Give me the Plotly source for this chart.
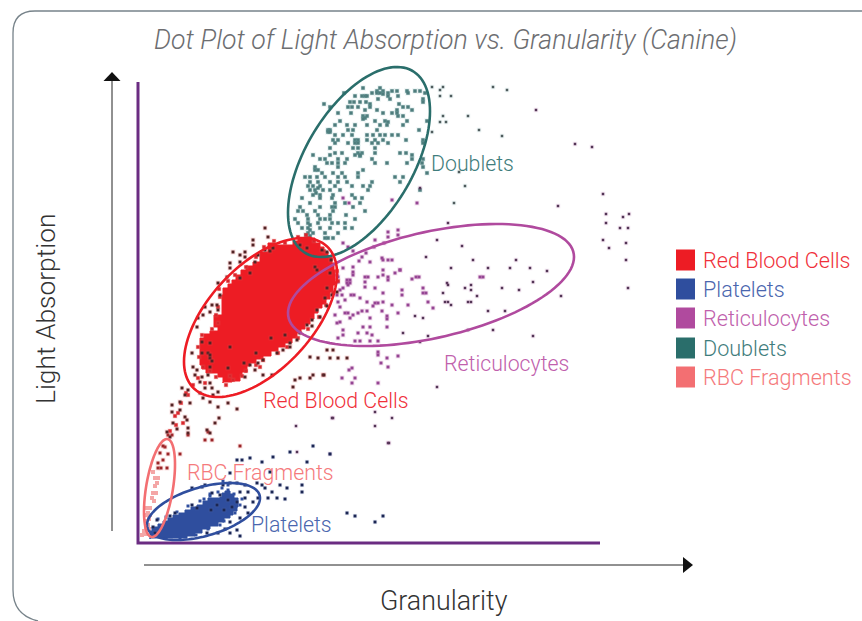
import math
import plotly.graph_objects as go

W, H = 862, 621
X0, Y0 = 138, 543  # pixel position of the origin of the dot plot axes
FONT = "Roboto"

RED, BLUE, PURPLE, TEAL, PINK = "#ed1c24", "#2f4e9e", "#b04a9e", "#2a6e6b", "#f36f72"

DOUBLET_PTS = [
(225,455),(242,455),(239,452),(245,452),(254,452),(259,452),(269,452),(277,452),(282,452),
(206,450),(234,450),(239,450),(242,450),(245,449),(250,450),(270,450),(287,450),(217,447),(224,447),(227,447),(229,447),(250,447),
(260,447),(240,444),(252,444),(285,444),(212,441),(216,441),(222,441),(228,441),(285,441),(186,439),(232,439),
(261,439),(192,436),(210,436),(214,436),(220,436),(232,436),(265,436),(270,436),(227,433),(239,433),(259,433),(274,433),
(200,430),(213,430),(245,430),(254,430),(259,430),(225,427),(229,427),(260,427),(265,427),(227,425),(225,424),
(202,422),(237,422),(247,422),(250,421),(269,422),(289,422),(197,418),(209,418),(217,418),(229,418),(242,418),
(249,418),(265,418),(190,413),(192,413),(190,411),(192,411),(210,413),(215,413),(239,413),(281,413),(197,408),(205,408),
(214,408),(229,408),(235,408),(242,408),(247,408),(254,408),(260,408),(195,403),(200,403),(217,403),(220,403),(229,403),(237,403),
(245,403),(268,403),(285,403),(197,400),(210,400),(217,400),(220,400),(234,400),(240,400),(250,400),(285,400),(192,395),(215,395),(220,395),(237,395),
(197,390),(204,390),(220,390),(224,390),(222,387),(237,390),(262,390),(268,390),(175,388),(192,388),(217,388),(222,388),(274,388),(182,384),
(187,384),(200,384),(209,384),(234,384),(274,384),(285,384),(189,380),(194,380),(200,380),(207,380),(237,380),(249,380),(269,380),
(284,380),(177,376),(200,376),(285,376),(177,373),(180,373),(225,373),(184,370),(195,370),(204,370),(220,370),(289,370),
(167,366),(172,366),(179,366),(187,366),(200,366),(207,366),(220,366),(257,366),(265,366),(172,361),(180,361),(192,361),(200,361),
(209,361),(234,361),(262,361),(170,357),(175,357),(182,357),(197,357),(214,357),(225,357),(232,357),(172,353),(177,353),(185,353),
(180,355),(178,350),(192,353),(202,353),(230,353),(282,353),(175,348),(182,348),(195,348),(214,348),(164,345),(182,345),(194,345),
(217,345),(224,345),(172,340),(197,340),(207,340),(222,340),(162,336),(182,336),(194,336),(197,336),(215,336),(160,332),
(165,332),(177,332),(195,332),(227,332),(169,328),(180,328),(192,328),(208,328),(157,324),(170,324),(182,324),(187,324),(192,324),
(217,324),(160,320),(170,320),(172,318),(180,320),(194,320),(200,320),(207,320),(164,315),(170,315),(172,313),(182,315),(192,315),(207,315),(214,315),
(175,310),(187,310),(200,310),(187,305),(190,305),(195,305),(170,310),(172,307),(170,305),(168,308),
]

DOUBLET_OUTLIERS = [
(294,456),(302,453),(305,456),(302,447),(313,447),(355,456),(369,453),(305,427),(330,427),(302,421),(308,421),(294,411),(341,413),
(364,407),(321,371),(327,357),(316,340),
]

RETIC_DENSE = [
(279,340),(254,343),(209,263),(212,263),(209,260),(212,260),(210,258),(213,248),(216,248),(200,266),(200,261),(215,276),(215,271),(215,268),(227,266),(227,261),
(227,256),(230,266),(250,283),(245,283),(254,283),(250,266),(250,263),(232,281),(260,313),(260,308),(250,311),(250,306),(237,303),
(244,285),(245,273),(245,268),(257,270),(262,273),(240,266),(237,255),(245,250),(222,245),(229,241),(237,240),(235,237),(240,240),
(245,241),(254,238),(202,253),(199,248),(204,248),(200,241),(202,236),(207,230),(210,230),(215,228),(212,225),(220,230),(224,232),
(229,232),(232,225),(249,227),(249,224),(244,232),(225,216),(232,216),(249,216),(229,210),(220,210),(205,213),(205,208),(234,208),
(240,202),(232,202),(217,202),(222,202),(200,205),(199,220),(202,221),(240,191),(240,188),(249,185),(260,187),(243,180),(250,176),
(214,175),(211,173),(204,165),(217,165),(214,160),(240,160),(264,253),(264,248),(285,250),(288,250),(270,238),(260,230),(262,273),
(278,266),(281,266),(274,264),(342,266),(345,266),(285,255),(290,241),(295,235),(224,286),(228,290),(236,296),(246,300),(205,345),(211,340),(205,300),
(210,296),(215,292),(221,282),(205,275),(199,268),(205,255),(207,243),(197,228),
]

DARK_SPARSE = [
(282,355),(398,433),(437,399),(454,396),(465,349),(420,337),(468,329),(468,320),(485,326),(491,329),(482,315),(490,315),(465,303),(471,295),
(488,300),(488,283),(490,255),(310,320),(299,303),(324,297),(288,286),(335,283),(313,275),(350,275),(372,275),(378,283),(392,275),
(409,272),(395,261),(309,260),(310,258),(333,258),(364,255),(327,255),(333,253),(381,253),(305,250),(423,247),(339,247),(307,241),
(330,241),(333,241),(310,241),(313,238),(350,232),(367,232),(277,227),(285,225),(330,213),(355,213),(395,207),(290,207),(265,210),(282,201),
(299,156),(237,131),(254,125),(237,117),(250,100),(195,125),(192,89),(158,117),(194,125),(251,100),(159,91),
]

RBC_CORE = [
(115,281),(122,285),(122,291),(130,295),(130,300),(137,298),(144,298),(152,298),(155,302),(160,305),(168,306),(173,305),(177,300),
(182,296),(186,291),(190,286),(194,280),(196,273),(197,265),(197,258),(195,251),(192,244),(188,239),(184,235),(180,230),(176,224),
(172,219),(167,214),(163,210),(159,205),(154,200),(147,196),(140,192),(133,187),(125,184),(118,180),(112,177),(109,171),(104,167),
(102,162),(94,161),(85,160),(85,166),(80,170),(72,170),(68,174),(64,178),(62,186),(62,196),(62,205),(66,209),(72,212),(80,216),
(76,222),(76,228),(84,232),(84,240),(84,248),(85,255),(90,259),(94,263),(98,268),(103,273),(108,277),
]

RBC_EDGE_RED = [
(90,262),(97,268),(108,276),(118,286),(126,296),(136,302),(147,300),(160,306),(168,308),(176,302),(186,292),(193,284),(199,272),(200,262),
(195,250),(188,238),(181,226),(170,214),(160,205),(149,196),(140,190),(125,183),(118,178),(108,172),(104,167),(95,163),(88,158),(78,166),
(72,172),(65,176),(61,186),(60,196),(64,208),(74,214),(80,220),(78,228),(80,236),(82,246),(81,254),(43,140),(40,130),(37,127),(50,148),
(45,120),(32,112),(38,118),(55,158),(60,165),(48,150),(67,160),(92,167),(122,176),
]

RBC_DARK = [
(127,315),(130,306),(115,303),(115,298),(107,291),(107,286),(95,291),(102,288),(127,293),(132,292),(117,281),(92,280),(92,275),(102,265),
(102,281),(89,266),(80,260),(82,248),(74,238),(79,238),(80,233),(67,236),(72,231),(60,225),(65,228),(59,216),(64,201),(72,200),(54,190),
(64,190),(70,190),(72,185),(55,176),(59,173),(72,176),(57,168),(70,168),(64,166),(62,161),(72,160),(67,155),(74,155),(80,151),(62,150),
(75,148),(90,140),(99,134),(80,136),(72,141),(65,145),(50,153),(47,148),(44,155),(42,141),(52,140),(34,138),(34,131),(42,133),(47,126),
(35,120),(39,114),(29,111),(32,106),(50,115),(49,123),(50,110),(69,113),(72,110),(77,120),(81,125),(112,178),(120,180),(125,183),(139,190),
(145,193),(152,196),(117,173),(125,168),(134,168),(107,166),(157,163),(162,165),(172,165),(175,168),(185,168),(172,186),(180,185),(192,185),
(200,185),(209,185),(155,156),(189,193),(195,193),(186,168),(192,270),(189,255),(199,251),(194,248),(187,245),(189,237),(179,233),(182,226),
(174,223),(169,218),(174,217),(159,203),(162,210),(152,200),(162,298),(169,295),(184,293),(189,291),(193,283),(177,276),(179,273),
(112,270),(120,288),(135,295),(106,180),(118,190),(72,188),(90,175),(74,182),(92,196),(133,205),(147,208),
]

FRAGMENT_RED = [
(30,108),(34,108),(50,108),(67,103),(74,103),(70,111),(27,96),(25,97),(22,90),(30,89),(42,89),(25,83),(20,80),(20,75),(23,75),(29,75),(102,97),
]

FRAGMENT_PINK = [
(15,71),(17,65),(20,65),(19,60),(17,57),(15,50),(18,50),(14,45),(16,42),(12,35),(10,30),(8,28),(12,28),(8,22),(10,18),(8,15),(11,14),(6,12),(8,9),(4,8),(11,24),(9,35),
]

PLATELET_CORE = [
(12,4),(12,12),(14,16),(20,19),(25,22),(30,25),(35,28),(41,30),(47,33),(53,36),(59,38),(65,42),(70,45),(76,45),(82,46),(84,50),(87,52),
(92,49),(96,45),(100,41),(100,36),(99,32),(95,28),(92,25),(86,21),(80,17),(72,14),(64,10),(57,7),(49,5),
]

PLATELET_EDGE = [
(20,24),(28,26),(39,31),(50,37),(62,42),(72,49),(80,51),(84,55),(90,53),(96,49),(104,44),(102,38),(97,30),(86,22),(82,18),(70,14),(58,8),(42,5),(90,58),(85,62),(72,47),(66,44),
]

PLATELET_DARK = [
(54,55),(64,56),(67,58),(85,58),(92,60),(99,60),(107,58),(119,60),(124,58),(127,55),(134,51),(142,58),(149,55),(164,58),(164,51),(139,45),
(147,44),(130,45),(120,45),(110,51),(102,51),(107,45),(115,41),(107,36),(99,41),(94,36),(110,30),(102,25),(92,21),(87,14),(80,10),(99,13),
(102,7),(92,10),(69,10),(209,30),(217,27),(237,21),(245,27),(32,27),(37,30),(59,35),(79,38),(54,38),(19,23),(15,16),(17,10),(175,97),(152,91),
(135,86),(112,85),(124,81),(104,83),(99,83),(169,81),(132,71),(92,70),(192,89),(74,50),(82,48),(90,43),(86,33),(73,33),
]

ELLIPSES = {  # centre x, centre y, half width, half height, tilt
    "Doublets": (221, 381, 71, 95, 0.535, TEAL),
    "Reticulocytes": (293, 258, 143, 61, 0.46, PURPLE),
    "Red Blood Cells": (122.5, 225.5, 76.5, 79.5, 0.556, RED),
    "Platelets": (65.5, 31.5, 56.5, 28.5, 0.47, BLUE),
    "RBC Fragments": (21.5, 55, 15.5, 49, 0.48, PINK),
}

REGION_LABELS = [
    ("Doublets", 291, 380, "#3f7d7c"),
    ("Reticulocytes", 304, 180, "#c060ac"),
    ("Red Blood Cells", 123, 143, "#f0303a"),
    ("RBC Fragments", 47, 71, "#f57a7c"),
    ("Platelets", 111, 19, "#4a66ae"),
]

LEGEND_ITEMS = [
    ("Red Blood Cells", RED, "#f0303a", 260),
    ("Platelets", BLUE, "#4a66ae", 289),
    ("Reticulocytes", PURPLE, "#c060ac", 318),
    ("Doublets", TEAL, "#3f7d7c", 348),
    ("RBC Fragments", PINK, "#f57a7c", 377),
]


def pts(fig, data, color, size=3, halo="rgba(0,0,0,0)", halo_w=0):
    fig.add_trace(go.Scatter(
        x=[p[0] for p in data], y=[p[1] for p in data], mode="markers",
        marker=dict(symbol="square", size=size, color=color, line=dict(color=halo, width=halo_w)),
        hoverinfo="skip", showlegend=False, cliponaxis=False))


def region(fig, data, color):
    xs = [p[0] for p in data] + [data[0][0]]
    ys = [p[1] for p in data] + [data[0][1]]
    fig.add_trace(go.Scatter(
        x=xs, y=ys, mode="lines", fill="toself", fillcolor=color,
        line=dict(color=color, width=1, shape="hv"),
        hoverinfo="skip", showlegend=False))


def ellipse_path(cx, cy, hx, hy, rho):
    s = math.sqrt(1 - rho * rho)
    out = []
    for i in range(120):
        t = 2 * math.pi * i / 120
        out.append(f"{cx + hx * math.cos(t):.2f},{cy + hy * (rho * math.cos(t) + s * math.sin(t)):.2f}")
    return "M " + " L ".join(out) + " Z"


fig = go.Figure()
pts(fig, DOUBLET_PTS, "#4d7a7a", 3.5, "rgba(110,170,170,0.13)", 2)
pts(fig, DOUBLET_OUTLIERS, "#4c5254", 2.5, "rgba(110,170,170,0.13)", 2)
pts(fig, RETIC_DENSE, "#8e4390", 3, "rgba(190,90,170,0.16)", 2)
pts(fig, DARK_SPARSE, "#43304a", 2.5, "rgba(190,90,170,0.14)", 2)
pts(fig, FRAGMENT_PINK, "#f4a6a6", 4)
pts(fig, FRAGMENT_RED, "#8c1c20", 3, "rgba(240,100,100,0.18)", 2)
region(fig, RBC_CORE, RED)
pts(fig, RBC_EDGE_RED, "#d8262c", 3.5, "rgba(240,100,100,0.18)", 1.5)
pts(fig, RBC_DARK, "#3a1a1c", 3, "rgba(240,100,100,0.18)", 2)
region(fig, PLATELET_CORE, BLUE)
pts(fig, PLATELET_EDGE, "#2f4e9e", 3)
pts(fig, PLATELET_DARK, "#16204a", 3, "rgba(120,140,210,0.14)", 1.5)

shapes = [
    dict(type="path", path="M 724,532 L -103,532 Q -125,532 -125,510 L -125,-47 Q -125,-72 -100,-78",
         line=dict(color="#77838a", width=1.3)),
    dict(type="path", path="M 0,461 L 0,0 L 462,0", line=dict(color="#6b2c82", width=3)),
    dict(type="line", x0=-26, y0=12, x1=-26, y1=463, line=dict(color="#222", width=1)),
    dict(type="path", path="M -26,471 L -34.5,462 L -17.5,462 Z", fillcolor="#111", line=dict(width=0)),
    dict(type="line", x0=6, y0=-22, x1=547, y1=-22, line=dict(color="#222", width=1)),
    dict(type="path", path="M 555,-22 L 545,-30 L 545,-14 Z", fillcolor="#111", line=dict(width=0)),
]
for name, (cx, cy, hx, hy, rho, col) in ELLIPSES.items():
    shapes.append(dict(type="path", path=ellipse_path(cx, cy, hx, hy, rho), line=dict(color=col, width=2.6)))
for _, col, _, py in LEGEND_ITEMS:
    shapes.append(dict(type="rect", x0=676 - X0, x1=695 - X0, y0=Y0 - py - 10.5, y1=Y0 - py + 10.5,
                       fillcolor=col, line=dict(width=0)))

ann = [
    dict(x=445 - X0, y=Y0 - 40, text="<i>Dot Plot of Light Absorption vs. Granularity (Canine)</i>",
         font=dict(size=26.7, color="#6d6e71", family=FONT, weight=300), xanchor="center", yanchor="middle"),
    dict(x=444 - X0, y=Y0 - 601, text="Granularity",
         font=dict(size=26.8, color="#333", family=FONT, weight=300), xanchor="center", yanchor="middle"),
    dict(x=46 - X0, y=Y0 - 309, text="Light Absorption", textangle=-90,
         font=dict(size=26.4, color="#333", family=FONT, weight=300), xanchor="center", yanchor="middle"),
]
for text, x, y, col in REGION_LABELS:
    ann.append(dict(x=x, y=y, text=text, font=dict(size=21.3, color=col, family=FONT, weight=300),
                    xanchor="left", yanchor="middle"))
for text, _, col, py in LEGEND_ITEMS:
    ann.append(dict(x=701 - X0, y=Y0 - py, text=text, font=dict(size=21.6, color=col, family=FONT, weight=300),
                    xanchor="left", yanchor="middle"))
for a in ann:
    a.update(showarrow=False, xref="x", yref="y")

fig.update_layout(
    width=W, height=H, margin=dict(l=0, r=0, t=0, b=0), paper_bgcolor="white", plot_bgcolor="white",
    xaxis=dict(range=[-X0, W - X0], visible=False, fixedrange=True),
    yaxis=dict(range=[Y0 - H, Y0], visible=False, fixedrange=True),
    shapes=shapes, annotations=ann, showlegend=False,
)
fig.write_html("out.html", config=dict(displayModeBar=False),
               post_script="document.body.style.margin='0';document.documentElement.style.overflow='hidden';")
